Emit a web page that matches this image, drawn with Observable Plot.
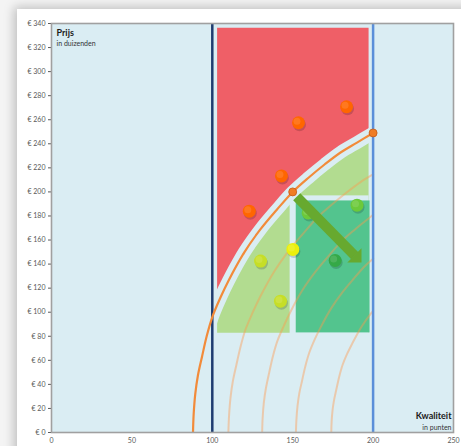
<!DOCTYPE html>
<html><head><meta charset="utf-8">
<script src="https://cdn.jsdelivr.net/npm/d3@7"></script>
<script src="https://cdn.jsdelivr.net/npm/@observablehq/plot@0.6"></script>
<style>
html,body{margin:0;padding:0;background:#f4f4f4;width:461px;height:446px;overflow:hidden;}
#card{position:absolute;left:17px;top:9px;width:600px;height:600px;background:#fff;box-shadow:-3px -2px 10px rgba(0,0,0,0.22);}
#chart{position:absolute;left:0;top:0;}
</style></head><body><div id="card"></div><div id="chart"></div>
<script>
// ---- data ----
const xTicks = [0, 50, 100, 150, 200, 250];
const yTicks = [0, 20, 40, 60, 80, 100, 120, 140, 160, 180, 200, 220, 240, 260, 280, 300, 320, 340];

// main price/quality curve
const mainCurve = [[88,0],[88.4,15],[89.4,32],[91,47],[93.6,63],[96.5,80],[100,96],[105,112],[110,126],[120,150],[130,169],[140,185],[150,200],[160,212],[170,223],[180,233],[190,241],[200,249]];
// faint iso curves
const isoA = [[110,0],[110.4,13.4],[111.3,28.6],[112.7,42],[115,56.3],[117.6,71.5],[120.7,85.8],[125.2,100],[129.7,112.6],[138.6,134],[147.5,151],[156.5,165.3],[165.4,178.7],[174.4,189.5],[183.3,199.3],[192.2,208.2],[200,214.5]];
const isoB = [[131,0],[131.3,11.9],[132.1,25.4],[133.4,37.2],[135.4,49.9],[137.7,63.4],[140.5,76.1],[144.5,88.7],[148.4,99.8],[156.3,118.8],[164.3,133.9],[172.2,146.6],[180.1,158.5],[188,168],[196,176.7],[200,181]];
const isoC = [[152,0],[152.3,10.4],[153,22.1],[154.1,32.5],[155.9,43.5],[157.9,55.3],[160.3,66.3],[163.7,77.4],[167.2,87],[174.1,103.6],[181,116.7],[187.9,127.8],[194.8,138.2],[200,144.5]];
const isoD = [[174,0],[174.2,8.8],[174.8,18.7],[175.8,27.5],[177.3,36.8],[179,46.8],[181,56.1],[183.9,65.5],[186.9,73.6],[192.7,87.7],[198.6,98.8],[200,101]];

// products
const pointsX = [123, 143, 153.6, 183.5, 130, 142.4, 150.1, 159.6, 190, 176.4];
const pointsY = [184, 213.3, 257.5, 270.8, 142.5, 109.2, 152.2, 182.5, 189, 143];
const pointsKind = ["oranje","oranje","oranje","oranje","geelgroen","geelgroen","geel","groen","groen","donkergroen"];

// markers on the curve
const markerX = [150, 200];
const markerY = [200, 249];

// limits
const minQuality = [100];
const maxQuality = [200];

// zones
const zoneLeft = 103.3, zoneRight = 197.5, redTop = 336, greenBottom = 82.5;
const columnRight = 148.4, stripBottom = 196.7;
const darkZone = [{x1: 152.2, x2: 198.1, y1: 82.8, y2: 192.5}];
const arrowData = [{x1: 152.5, y1: 196, x2: 188.6, y2: 147}];

// ---- styling ----
const bg = "#daedf3";
const kindColor = {oranje: "#ff6600", geelgroen: "#c6de27", geel: "#ebef0c", groen: "#6cc93a", donkergroen: "#35a947"};
const points = pointsX.map((x, i) => ({x, y: pointsY[i], c: kindColor[pointsKind[i]]}));
const markers = markerX.map((x, i) => ({x, y: markerY[i]}));
const covers = [
  {x1: 80, x2: zoneLeft, y1: 0, y2: 340},
  {x1: zoneRight, x2: 202, y1: 0, y2: 340},
  {x1: columnRight, x2: zoneRight, y1: greenBottom - 1, y2: stripBottom}
];
const headSymbol = {draw(ctx) { ctx.moveTo(9.5, 0); ctx.lineTo(-0.5, -10); ctx.lineTo(-0.5, 10); ctx.closePath(); }};
const cx = d => d[0], cy = d => d[1];
const crv = "catmull-rom";

const chart = Plot.plot({
  width: 461, height: 446,
  marginLeft: 51, marginRight: 8, marginTop: 23, marginBottom: 14,
  style: {fontFamily: "Lato, 'Open Sans', sans-serif", fontSize: "7px", color: "#595959", background: "transparent"},
  color: {type: "identity"},
  x: {domain: [0, 250], ticks: xTicks, tickSize: 0, tickPadding: 6, label: null},
  y: {domain: [0, 340], ticks: yTicks, tickSize: 3, tickPadding: 3, label: null, tickFormat: d => `€ ${d}`},
  marks: [
    Plot.frame({fill: bg}),
    Plot.areaY(mainCurve, {x: cx, y1: cy, y2: redTop, fill: "#ef5f67", curve: crv}),
    Plot.areaY(mainCurve, {x: cx, y1: greenBottom, y2: cy, fill: "#b2dc90", curve: crv}),
    Plot.rect(covers, {x1: "x1", x2: "x2", y1: "y1", y2: "y2", fill: bg}),
    Plot.line(mainCurve, {x: cx, y: cy, stroke: bg, strokeWidth: 13, curve: crv, clip: true}),
    Plot.rect(darkZone, {x1: "x1", x2: "x2", y1: "y1", y2: "y2", fill: "#53c48e"}),
    ...[isoA, isoB, isoC, isoD].map(c => Plot.line(c, {x: cx, y: cy, stroke: "#ff984d", strokeOpacity: 0.42, strokeWidth: 2, curve: crv, clip: true})),
    Plot.ruleX(minQuality, {stroke: "#1f3c70", strokeWidth: 2.5}),
    Plot.ruleX(maxQuality, {stroke: "#5b8fd9", strokeWidth: 2.5}),
    Plot.line(mainCurve, {x: cx, y: cy, stroke: "#f28b3a", strokeWidth: 2.2, curve: crv, clip: true}),
    Plot.dot(points, {x: "x", y: "y", r: 6.5, fill: "#000", fillOpacity: 0.16, dx: 1, dy: 2}),
    Plot.dot(points, {x: "x", y: "y", r: 6.5, fill: "c"}),
    Plot.dot(points, {x: "x", y: "y", r: 3.5, fill: "#fff", fillOpacity: 0.12, dx: -1.5, dy: -1.5}),
    Plot.link(arrowData, {x1: "x1", y1: "y1", x2: "x2", y2: "y2", stroke: "#67a92f", strokeWidth: 10}),
    Plot.dot(arrowData, {x: "x2", y: "y2", symbol: headSymbol, rotate: 45, fill: "#67a92f", r: 6}),
    Plot.dot(markers, {x: "x", y: "y", r: 4, fill: "#f07d25", stroke: "#c45a18", strokeWidth: 0.8}),
    Plot.frame({stroke: "#a0a0a0", strokeWidth: 1.6}),
    Plot.text(["Prijs"], {frameAnchor: "top-left", dx: 5, dy: 10, fontWeight: "bold", fontSize: 9, fill: "#1a1a1a", textAnchor: "start", lineAnchor: "middle"}),
    Plot.text(["in duizenden"], {frameAnchor: "top-left", dx: 5, dy: 20.5, fontSize: 7, fill: "#333", textAnchor: "start", lineAnchor: "middle"}),
    Plot.text(["Kwaliteit"], {frameAnchor: "bottom-right", dx: -2, dy: -16.3, fontWeight: "bold", fontSize: 9, fill: "#1a1a1a", textAnchor: "end", lineAnchor: "middle"}),
    Plot.text(["in punten"], {frameAnchor: "bottom-right", dx: -2, dy: -4.5, fontSize: 7, fill: "#333", textAnchor: "end", lineAnchor: "middle"})
  ]
});
document.getElementById("chart").appendChild(chart);
</script></body></html>
